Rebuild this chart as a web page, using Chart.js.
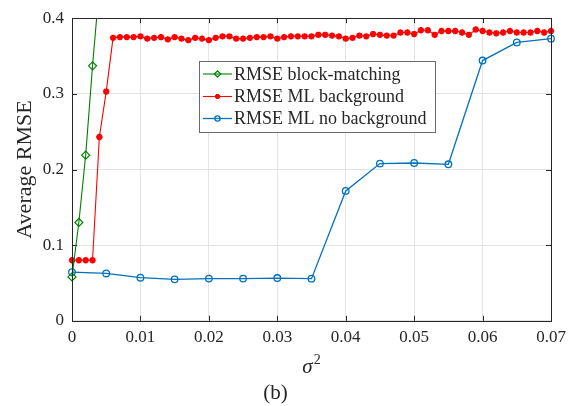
<!DOCTYPE html>
<html>
<head>
    <title>Average RMSE x sigma^2</title>
    <script src="https://cdn.jsdelivr.net/npm/chart.js@4.4.2/dist/chart.umd.min.js"></script>
    <style>
        body {
            margin: 0;
            background: #fff;
        }

        #grafico {
            display: block;
        }
    </style>
</head>
<body>
    <canvas id="grafico" width="574" height="406"></canvas>
    <script>
        // valores
        var xBlock = [0, 0.001, 0.002, 0.003, 0.004];
        var rmseBlock = [0.058, 0.130, 0.219, 0.337, 0.442];

        var xBg = [0, 0.001, 0.002, 0.003, 0.004, 0.005, 0.006, 0.007, 0.008, 0.009,
            0.010, 0.011, 0.012, 0.013, 0.014, 0.015, 0.016, 0.017, 0.018, 0.019,
            0.020, 0.021, 0.022, 0.023, 0.024, 0.025, 0.026, 0.027, 0.028, 0.029,
            0.030, 0.031, 0.032, 0.033, 0.034, 0.035, 0.036, 0.037, 0.038, 0.039,
            0.040, 0.041, 0.042, 0.043, 0.044, 0.045, 0.046, 0.047, 0.048, 0.049,
            0.050, 0.051, 0.052, 0.053, 0.054, 0.055, 0.056, 0.057, 0.058, 0.059,
            0.060, 0.061, 0.062, 0.063, 0.064, 0.065, 0.066, 0.067, 0.068, 0.069,
            0.070];
        var rmseBg = [0.080, 0.080, 0.080, 0.080, 0.243, 0.303, 0.374, 0.375, 0.375, 0.375,
            0.376, 0.373, 0.374, 0.375, 0.372, 0.375, 0.373, 0.371, 0.374, 0.373,
            0.371, 0.374, 0.376, 0.376, 0.373, 0.373, 0.374, 0.375, 0.375, 0.376,
            0.373, 0.375, 0.376, 0.376, 0.376, 0.376, 0.378, 0.378, 0.377, 0.376,
            0.373, 0.374, 0.377, 0.376, 0.379, 0.378, 0.377, 0.377, 0.381, 0.381,
            0.379, 0.384, 0.384, 0.378, 0.383, 0.383, 0.383, 0.381, 0.378, 0.385,
            0.383, 0.381, 0.380, 0.381, 0.383, 0.381, 0.381, 0.381, 0.383, 0.381,
            0.383];

        var xNoBg = [0, 0.005, 0.010, 0.015, 0.020, 0.025, 0.030, 0.035,
            0.040, 0.045, 0.050, 0.055, 0.060, 0.065, 0.070];
        var rmseNoBg = [0.0644, 0.0626, 0.0570, 0.0548, 0.0558, 0.0558, 0.0565, 0.0557,
            0.1717, 0.2078, 0.2086, 0.2069, 0.3440, 0.3680, 0.3730];

        var labels = ['RMSE block-matching', 'RMSE ML background', 'RMSE ML no background'];

        function pares(xs, ys) {
            return xs.map(function (x, i) { return { x: x, y: ys[i] }; });
        }

        var fonte = "'Liberation Serif', 'DejaVu Serif', serif";
        var corTexto = '#262626';

        // caixa do eixo com ticks para dentro (estilo matlab)
        var caixaEixos = {
            id: 'caixaEixos',
            afterDatasetsDraw(chart) {
                const ctx = chart.ctx;
                const a = chart.chartArea;
                const sx = chart.scales.x;
                const sy = chart.scales.y;
                ctx.save();
                ctx.strokeStyle = '#262626';
                ctx.lineWidth = 1;
                ctx.beginPath();
                sx.ticks.forEach(function (t) {
                    const px = Math.round(sx.getPixelForValue(t.value)) + 0.5;
                    ctx.moveTo(px, a.bottom); ctx.lineTo(px, a.bottom - 5);
                    ctx.moveTo(px, a.top); ctx.lineTo(px, a.top + 5);
                });
                sy.ticks.forEach(function (t) {
                    const py = Math.round(sy.getPixelForValue(t.value)) + 0.5;
                    ctx.moveTo(a.left, py); ctx.lineTo(a.left + 5, py);
                    ctx.moveTo(a.right, py); ctx.lineTo(a.right - 5, py);
                });
                ctx.stroke();
                ctx.strokeRect(Math.round(a.left) + 0.5, Math.round(a.top) + 0.5,
                    Math.round(a.right - a.left), Math.round(a.bottom - a.top));

                // titulo do eixo x: sigma italico com expoente 2
                const cx = (a.left + a.right) / 2;
                ctx.fillStyle = corTexto;
                ctx.textBaseline = 'alphabetic';
                ctx.textAlign = 'left';
                ctx.font = 'italic 21px ' + fonte;
                const ws = ctx.measureText('σ').width;
                ctx.font = '14px ' + fonte;
                const w2 = ctx.measureText('2').width;
                const x0 = cx - (ws + w2 + 1) / 2;
                ctx.font = 'italic 21px ' + fonte;
                ctx.fillText('σ', x0, 373);
                ctx.font = '14px ' + fonte;
                ctx.fillText('2', x0 + ws + 1, 364);
                ctx.restore();
            }
        };

        // legenda dentro do grafico
        var legendaInterna = {
            id: 'legendaInterna',
            afterDraw(chart) {
                const ctx = chart.ctx;
                const bx = 199.5, by = 61.5;
                const tx = 234;
                const linhas = [74, 96.5, 118.5];
                ctx.save();
                ctx.font = '18px ' + fonte;
                let maxW = 0;
                chart.data.datasets.forEach(function (ds) {
                    maxW = Math.max(maxW, ctx.measureText(ds.label).width);
                });
                const bw = Math.max(236, tx + maxW + 5 - bx);
                ctx.fillStyle = '#fff';
                ctx.fillRect(bx, by, bw, 71);
                ctx.strokeStyle = '#6a6a6a';
                ctx.lineWidth = 1;
                ctx.strokeRect(bx, by, bw, 71);
                chart.data.datasets.forEach(function (ds, i) {
                    const y = linhas[i];
                    ctx.strokeStyle = ds.borderColor;
                    ctx.lineWidth = ds.borderWidth;
                    ctx.beginPath();
                    ctx.moveTo(203, y);
                    ctx.lineTo(232, y);
                    ctx.stroke();
                    ctx.fillStyle = ds.pointBackgroundColor;
                    ctx.strokeStyle = ds.borderColor;
                    ctx.lineWidth = ds.pointBorderWidth;
                    Chart.helpers.drawPoint(ctx, {
                        pointStyle: ds.pointStyle,
                        radius: ds.pointRadius * 0.8,
                        rotation: 0,
                        borderWidth: ds.pointBorderWidth
                    }, 217.5, y);
                    ctx.fillStyle = corTexto;
                    ctx.textBaseline = 'middle';
                    ctx.textAlign = 'left';
                    ctx.fillText(ds.label, tx, y + 1);
                });
                ctx.restore();
            }
        };

        var recorte = { left: 8, right: 8, top: 0, bottom: 8 };

        new Chart(document.getElementById('grafico'), {
            type: 'line',
            data: {
                datasets: [{
                    label: labels[0],
                    data: pares(xBlock, rmseBlock),
                    borderColor: '#008000',
                    borderWidth: 1.1,
                    pointStyle: 'rectRot',
                    pointRadius: 4,
                    pointBorderWidth: 1.2,
                    pointBackgroundColor: 'rgba(255,255,255,0)',
                    pointBorderColor: '#008000',
                    clip: recorte
                }, {
                    label: labels[1],
                    data: pares(xBg, rmseBg),
                    borderColor: '#ff0000',
                    borderWidth: 1.1,
                    pointStyle: 'star',
                    pointRadius: 3.2,
                    pointBorderWidth: 2,
                    pointBackgroundColor: '#ff0000',
                    pointBorderColor: '#ff0000',
                    clip: recorte
                }, {
                    label: labels[2],
                    data: pares(xNoBg, rmseNoBg),
                    borderColor: '#0072bd',
                    borderWidth: 1.3,
                    pointStyle: 'circle',
                    pointRadius: 3.3,
                    pointBorderWidth: 1.3,
                    pointBackgroundColor: 'rgba(255,255,255,0)',
                    pointBorderColor: '#0072bd',
                    clip: recorte
                }]
            },
            options: {
                responsive: false,
                animation: false,
                layout: {
                    padding: { top: 15, right: 23, left: 0, bottom: 0 }
                },
                plugins: {
                    legend: { display: false },
                    tooltip: { enabled: false },
                    title: {
                        display: true,
                        position: 'bottom',
                        text: '(b)',
                        color: corTexto,
                        font: { family: fonte, size: 21, weight: 'normal' },
                        padding: { top: 4, bottom: 0 }
                    }
                },
                scales: {
                    x: {
                        type: 'linear',
                        min: 0,
                        max: 0.07,
                        border: { display: false },
                        grid: { color: '#e3e3e3', drawTicks: false },
                        ticks: {
                            stepSize: 0.01,
                            padding: 7,
                            color: corTexto,
                            font: { family: fonte, size: 17 },
                            callback: function (v) { return String(+v.toFixed(3)); }
                        },
                        afterFit: function (s) { s.height = 56; }
                    },
                    y: {
                        min: 0,
                        max: 0.4,
                        border: { display: false },
                        grid: { color: '#e3e3e3', drawTicks: false },
                        ticks: {
                            stepSize: 0.1,
                            padding: 8,
                            color: corTexto,
                            font: { family: fonte, size: 17 },
                            callback: function (v) { return String(+v.toFixed(2)); }
                        },
                        title: {
                            display: true,
                            text: 'Average RMSE',
                            color: corTexto,
                            font: { family: fonte, size: 22 },
                            padding: { top: 12, bottom: 0 }
                        },
                        afterFit: function (s) { s.width = 72; }
                    }
                }
            },
            plugins: [caixaEixos, legendaInterna]
        });
    </script>
</body>
</html>
